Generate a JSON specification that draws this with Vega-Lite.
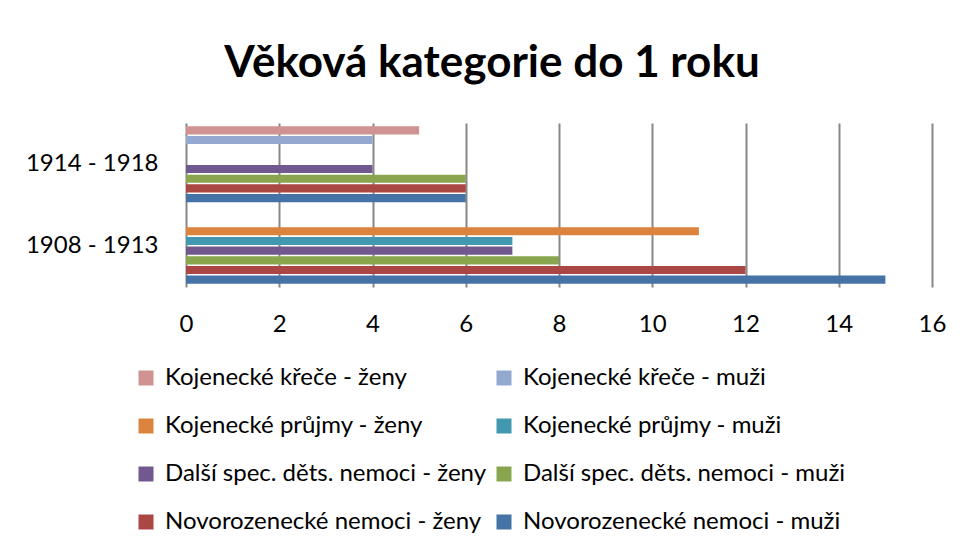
{
  "$schema": "https://vega.github.io/schema/vega-lite/v6.json",
  "autosize": "none",
  "width": 746,
  "height": 164,
  "padding": {"left": 186, "top": 123, "right": 34, "bottom": 265},
  "background": "white",
  "title": {
    "text": "Věková kategorie do 1 roku",
    "font": "Lato",
    "fontSize": 44,
    "fontWeight": "bold",
    "color": "black",
    "anchor": "middle",
    "frame": "group",
    "dx": -67,
    "offset": 37
  },
  "data": {
    "values": [
      {"obdobi": "1914 - 1918", "serie": "Kojenecké křeče - ženy", "poradi": 1, "pocet": 5},
      {"obdobi": "1914 - 1918", "serie": "Kojenecké křeče - muži", "poradi": 2, "pocet": 4},
      {"obdobi": "1914 - 1918", "serie": "Kojenecké průjmy - ženy", "poradi": 3, "pocet": 0},
      {"obdobi": "1914 - 1918", "serie": "Kojenecké průjmy - muži", "poradi": 4, "pocet": 0},
      {"obdobi": "1914 - 1918", "serie": "Další spec. děts. nemoci - ženy", "poradi": 5, "pocet": 4},
      {"obdobi": "1914 - 1918", "serie": "Další spec. děts. nemoci - muži", "poradi": 6, "pocet": 6},
      {"obdobi": "1914 - 1918", "serie": "Novorozenecké nemoci - ženy", "poradi": 7, "pocet": 6},
      {"obdobi": "1914 - 1918", "serie": "Novorozenecké nemoci - muži", "poradi": 8, "pocet": 6},
      {"obdobi": "1908 - 1913", "serie": "Kojenecké křeče - ženy", "poradi": 1, "pocet": 0},
      {"obdobi": "1908 - 1913", "serie": "Kojenecké křeče - muži", "poradi": 2, "pocet": 0},
      {"obdobi": "1908 - 1913", "serie": "Kojenecké průjmy - ženy", "poradi": 3, "pocet": 11},
      {"obdobi": "1908 - 1913", "serie": "Kojenecké průjmy - muži", "poradi": 4, "pocet": 7},
      {"obdobi": "1908 - 1913", "serie": "Další spec. děts. nemoci - ženy", "poradi": 5, "pocet": 7},
      {"obdobi": "1908 - 1913", "serie": "Další spec. děts. nemoci - muži", "poradi": 6, "pocet": 8},
      {"obdobi": "1908 - 1913", "serie": "Novorozenecké nemoci - ženy", "poradi": 7, "pocet": 12},
      {"obdobi": "1908 - 1913", "serie": "Novorozenecké nemoci - muži", "poradi": 8, "pocet": 15}
    ]
  },
  "mark": {"type": "bar"},
  "encoding": {
    "y": {
      "field": "obdobi",
      "type": "nominal",
      "sort": ["1914 - 1918", "1908 - 1913"],
      "scale": {"paddingInner": 0.07, "paddingOuter": 0.04},
      "axis": {
        "title": null,
        "ticks": false,
        "domain": false,
        "labelFont": "Lato",
        "labelFontSize": 24,
        "labelColor": "black",
        "labelPadding": 28
      }
    },
    "yOffset": {
      "field": "serie",
      "type": "nominal",
      "sort": {"field": "poradi"},
      "scale": {"paddingInner": 0.16, "paddingOuter": 0}
    },
    "x": {
      "field": "pocet",
      "type": "quantitative",
      "scale": {"domain": [0, 16], "nice": false},
      "axis": {
        "title": null,
        "values": [0, 2, 4, 6, 8, 10, 12, 14, 16],
        "grid": true,
        "gridColor": "#878787",
        "gridWidth": 2,
        "gridOpacity": 1,
        "ticks": false,
        "domain": false,
        "labelFlush": false,
        "labelFont": "Lato",
        "labelFontSize": 24,
        "labelColor": "black",
        "labelPadding": 25
      }
    },
    "color": {
      "field": "serie",
      "type": "nominal",
      "scale": {
        "domain": [
          "Kojenecké křeče - ženy",
          "Kojenecké průjmy - ženy",
          "Další spec. děts. nemoci - ženy",
          "Novorozenecké nemoci - ženy",
          "Kojenecké křeče - muži",
          "Kojenecké průjmy - muži",
          "Další spec. děts. nemoci - muži",
          "Novorozenecké nemoci - muži"
        ],
        "range": ["#D19392", "#DB843D", "#71588F", "#AA4643", "#93A9CF", "#4198AF", "#89A54E", "#4572A7"]
      },
      "legend": {
        "title": null,
        "orient": "none",
        "legendX": -52,
        "legendY": 243,
        "direction": "vertical",
        "columns": 2,
        "columnPadding": 5,
        "rowPadding": 24,
        "symbolType": "square",
        "symbolSize": 225,
        "symbolStrokeWidth": 0,
        "symbolOpacity": 1,
        "labelFont": "Lato",
        "labelFontSize": 24,
        "labelColor": "black",
        "labelLimit": 500,
        "labelOffset": 7
      }
    }
  },
  "config": {
    "view": {"stroke": null},
    "axis": {"gridDash": []}
  }
}
